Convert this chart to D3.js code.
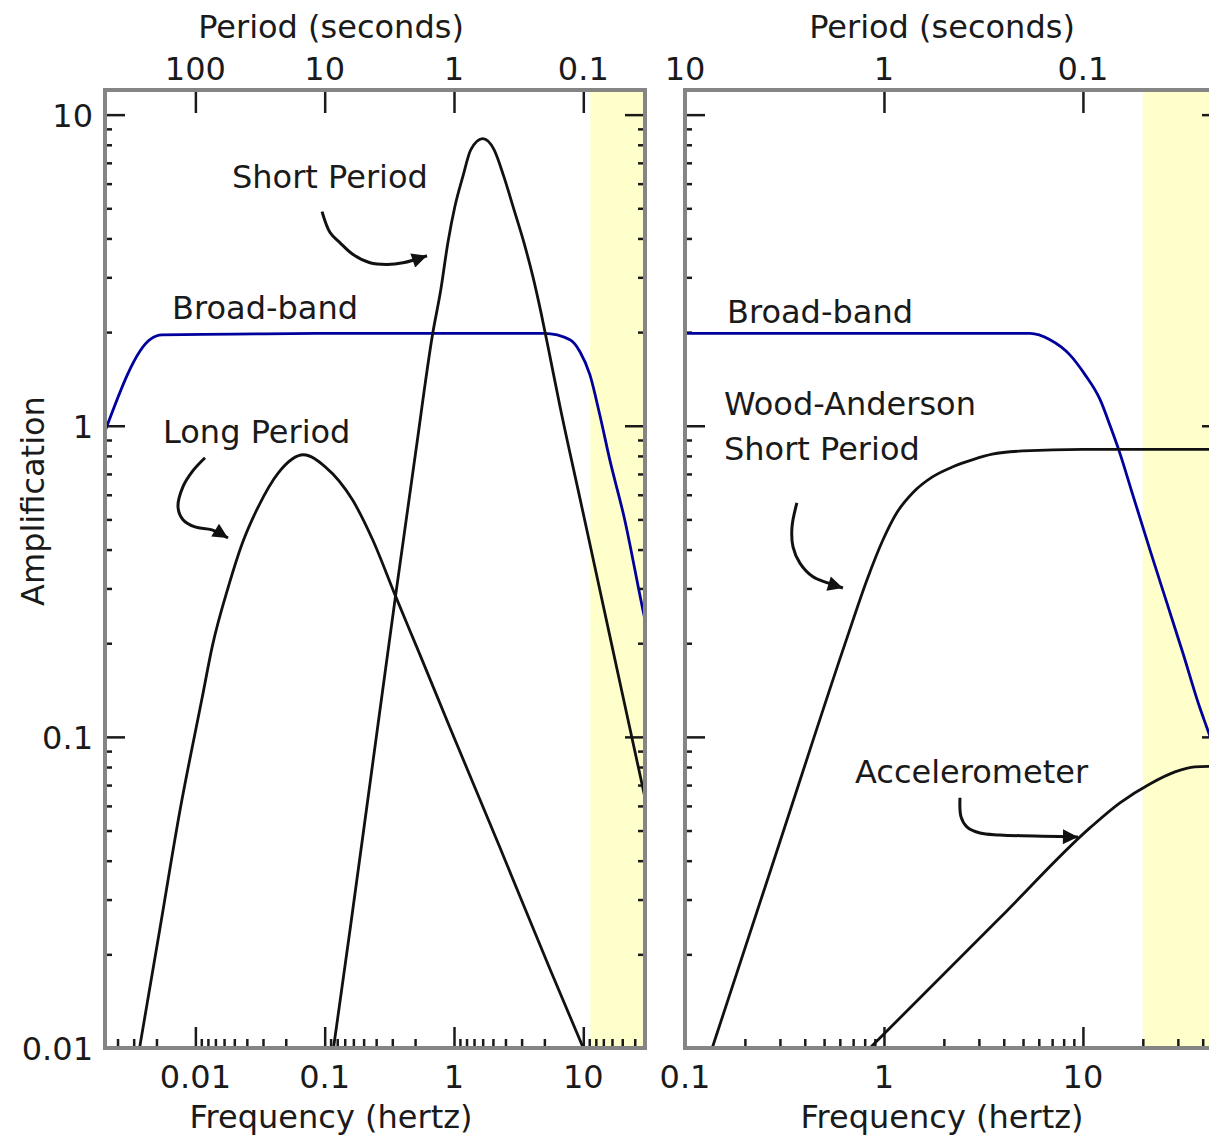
<!DOCTYPE html>
<html>
<head>
<meta charset="utf-8">
<script src="https://cdn.jsdelivr.net/npm/d3@7"></script>
<style>
  body { margin: 0; background: #fff; }
  svg { display: block; }
  text { font-family: "DejaVu Sans", sans-serif; font-size: 32px; fill: #1a1a1a; }
</style>
</head>
<body>
<svg></svg>
<script>
// ---- values: [frequency (Hz), amplification] ----
var ampLabels = [0.01, 0.1, 1, 10];
var leftFreqLabels = [0.01, 0.1, 1, 10];
var leftPeriodLabels = [100, 10, 1, 0.1];
var rightFreqLabels = [0.1, 1, 10];
var rightPeriodLabels = [10, 1, 0.1];

var leftBand = [11.3, 30];
var rightBand = [20, 50];

var broadBandLeft = [[0.002, 0.96], [0.0045, 1.9], [0.0055, 1.96], [0.02, 1.97], [0.1, 1.98],
  [1, 1.98], [5, 1.98], [7.89, 1.89], [9.42, 1.73], [11.24, 1.46], [13.42, 1.083],
  [16.02, 0.778], [20.9, 0.499], [28.9, 0.256], [30, 0.238]];

var longPeriod = [[0.0037, 0.01], [0.0053, 0.024], [0.0076, 0.058], [0.0113, 0.134],
  [0.0135, 0.195], [0.018, 0.304], [0.0231, 0.42], [0.0307, 0.55], [0.0438, 0.706],
  [0.0686, 0.807], [0.101, 0.738], [0.164, 0.578], [0.235, 0.43], [0.35, 0.286],
  [0.546, 0.1835], [0.931, 0.107], [2.27, 0.044], [5.53, 0.0179], [10, 0.01]];

var shortPeriod = [[0.117, 0.01], [0.159, 0.0249], [0.226, 0.0727], [0.354, 0.286],
  [0.506, 0.825], [0.686, 1.99], [0.791, 2.74], [0.896, 3.87], [1.015, 5.06], [1.17, 6.32],
  [1.35, 7.72], [1.67, 8.37], [2.04, 7.72], [2.43, 6.32], [2.91, 4.95], [3.48, 3.87],
  [4.08, 3.01], [4.71, 2.31], [5.34, 1.79], [6.61, 1.151], [9.44, 0.582], [13.47, 0.295],
  [19.23, 0.149], [30, 0.0637]];

var broadBandRight = [[0.1, 1.98], [1, 1.98], [5.42, 1.98], [6.83, 1.89], [8.6, 1.69],
  [10.24, 1.46], [12.2, 1.213], [13.7, 1.0], [15.3, 0.82], [17.8, 0.6], [21.7, 0.4],
  [26.4, 0.27], [31.8, 0.186], [38.7, 0.124], [42, 0.107], [50, 0.078]];

var woodAnderson = [[0.137, 0.01], [0.3, 0.046], [0.652, 0.208], [0.822, 0.32], [0.989, 0.43],
  [1.16, 0.525], [1.4, 0.61], [1.76, 0.686], [2.22, 0.738], [2.8, 0.778], [3.5, 0.81],
  [5, 0.83], [10, 0.84], [50, 0.84]];

var accelerometer = [[0.85, 0.01], [3.83, 0.0262], [10.84, 0.051], [15.35, 0.0614],
  [21.7, 0.0706], [29, 0.0772], [36.5, 0.0801], [50, 0.0805]];

// annotation text anchors and arrow paths, also in data units
var leftNotes = [
  { text: "Short Period", f: 0.0192, a: 5.82 },
  { text: "Broad-band", f: 0.0066, a: 2.21 },
  { text: "Long Period", f: 0.00562, a: 0.882 }
];
var rightNotes = [
  { text: "Broad-band", f: 0.1626, a: 2.14 },
  { text: "Wood-Anderson", f: 0.157, a: 1.085 },
  { text: "Short Period", f: 0.157, a: 0.778 },
  { text: "Accelerometer", f: 0.715, a: 0.0711 }
];
var shortPeriodArrow = [[0.0954, 4.88], [0.110, 4.18], [0.131, 3.88], [0.166, 3.55],
  [0.224, 3.34], [0.303, 3.30], [0.403, 3.34], [0.618, 3.52]];
var longPeriodArrow = [[0.01187, 0.789], [0.00942, 0.711], [0.00802, 0.637], [0.00734, 0.549],
  [0.00802, 0.499], [0.00993, 0.473], [0.01345, 0.463], [0.01787, 0.436]];
var woodAndersonArrow = [[0.365, 0.565], [0.345, 0.473], [0.349, 0.408], [0.378, 0.362],
  [0.440, 0.327], [0.517, 0.313], [0.622, 0.301]];
var accelerometerArrow = [[2.41, 0.0637], [2.44, 0.0553], [2.61, 0.0514], [3.04, 0.0491],
  [3.83, 0.0484], [9.44, 0.0477]];

// ---- layout ----
var width = 1209;
var height = 1140;
var plotTop = 90;
var plotBottom = 1048;

var svg = d3.select("svg")
    .attr("width", width)
    .attr("height", height);

svg.append("defs")
  .append("marker")
    .attr("id", "head")
    .attr("viewBox", "0 0 10 10")
    .attr("refX", 10)
    .attr("refY", 5)
    .attr("markerWidth", 18)
    .attr("markerHeight", 15)
    .attr("markerUnits", "userSpaceOnUse")
    .attr("orient", "auto")
  .append("path")
    .attr("d", "M0,0 L10,5 L0,10 Z")
    .attr("fill", "#111");

var y = d3.scaleLog().domain([0.01, 12]).range([plotBottom, plotTop]);

var panels = [
  {
    id: "left", range: [105, 645], domain: [0.002, 30], titleX: 331,
    freqLabels: leftFreqLabels, periodLabels: leftPeriodLabels, band: leftBand,
    periodMinor: true, ampText: true,
    curves: [
      { data: broadBandLeft, color: "#00009c" },
      { data: longPeriod, color: "#111" },
      { data: shortPeriod, color: "#111" }
    ],
    notes: leftNotes,
    arrows: [shortPeriodArrow, longPeriodArrow]
  },
  {
    id: "right", range: [685, 1222], domain: [0.1, 50], titleX: 942,
    freqLabels: rightFreqLabels, periodLabels: rightPeriodLabels, band: rightBand,
    periodMinor: false, ampText: false,
    curves: [
      { data: broadBandRight, color: "#00009c" },
      { data: woodAnderson, color: "#111" },
      { data: accelerometer, color: "#111" }
    ],
    notes: rightNotes,
    arrows: [woodAndersonArrow, accelerometerArrow]
  }
];

panels.forEach(drawPanel);

svg.append("text")
    .attr("transform", `translate(44, 501) rotate(-90)`)
    .style("text-anchor", "middle")
    .text("Amplification");

function drawPanel(p) {
  var x = d3.scaleLog().domain(p.domain).range(p.range);
  var x0 = p.range[0], x1 = p.range[1];
  var g = svg.append("g").classed(p.id, true);

  g.append("clipPath")
      .attr("id", "clip-" + p.id)
    .append("rect")
      .attr("x", x0)
      .attr("y", plotTop)
      .attr("width", x1 - x0)
      .attr("height", plotBottom - plotTop);

  // shaded band
  g.append("rect")
      .attr("x", x(p.band[0]))
      .attr("y", plotTop)
      .attr("width", x(p.band[1]) - x(p.band[0]))
      .attr("height", plotBottom - plotTop)
      .attr("fill", "#ffffcc");

  // ticks
  var isDecade = v => Math.abs(Math.log10(v) - Math.round(Math.log10(v))) < 1e-6;
  var minorAmp = y.ticks().filter(v => !isDecade(v));
  var minorFreq;
  if (p.periodMinor) {
    // the left panel's bottom minor ticks sit at round periods
    var periodScale = d3.scaleLog().domain([1 / p.domain[1], 1 / p.domain[0]]);
    minorFreq = periodScale.ticks().filter(v => !isDecade(v)).map(v => 1 / v);
  } else {
    minorFreq = x.ticks().filter(v => !isDecade(v));
  }
  var periodFreq = p.periodLabels.map(v => 1 / v);

  var tickGroups = [
    { axis: d3.axisRight(y).tickValues(ampLabels).tickSize(20), at: `translate(${x0},0)` },
    { axis: d3.axisRight(y).tickValues(minorAmp).tickSize(7), at: `translate(${x0},0)` },
    { axis: d3.axisLeft(y).tickValues(ampLabels).tickSize(20), at: `translate(${x1},0)` },
    { axis: d3.axisLeft(y).tickValues(minorAmp).tickSize(7), at: `translate(${x1},0)` },
    { axis: d3.axisTop(x).tickValues(p.freqLabels).tickSize(21), at: `translate(0,${plotBottom})` },
    { axis: d3.axisTop(x).tickValues(minorFreq).tickSize(9), at: `translate(0,${plotBottom})` },
    { axis: d3.axisBottom(x).tickValues(periodFreq).tickSize(23), at: `translate(0,${plotTop})` }
  ];

  var tickLayer = g.append("g")
      .attr("clip-path", `url(#clip-${p.id})`);

  tickGroups.forEach(t => {
    var a = tickLayer.append("g")
        .attr("transform", t.at)
        .call(t.axis.tickFormat(""));
    a.select(".domain").remove();
    a.selectAll("line")
        .attr("stroke", "#1a1a1a")
        .attr("stroke-width", 2.5);
  });

  // curves
  var line = d3.line()
      .x(d => x(d[0]))
      .y(d => y(d[1]))
      .curve(d3.curveMonotoneX);

  g.append("g")
      .attr("clip-path", `url(#clip-${p.id})`)
    .selectAll("path")
    .data(p.curves)
    .enter()
    .append("path")
      .attr("d", d => line(d.data))
      .attr("fill", "none")
      .attr("stroke", d => d.color)
      .attr("stroke-width", 2.8)
      .attr("stroke-linejoin", "round");

  // frame
  g.append("rect")
      .attr("x", x0)
      .attr("y", plotTop)
      .attr("width", x1 - x0)
      .attr("height", plotBottom - plotTop)
      .attr("fill", "none")
      .attr("stroke", "#858585")
      .attr("stroke-width", 4);

  // annotations
  g.selectAll(".note")
    .data(p.notes)
    .enter()
    .append("text")
      .classed("note", true)
      .attr("x", d => x(d.f))
      .attr("y", d => y(d.a))
      .text(d => d.text);

  var arrowLine = d3.line()
      .x(d => x(d[0]))
      .y(d => y(d[1]))
      .curve(d3.curveCatmullRom);

  g.selectAll(".arrow")
    .data(p.arrows)
    .enter()
    .append("path")
      .classed("arrow", true)
      .attr("d", arrowLine)
      .attr("fill", "none")
      .attr("stroke", "#111")
      .attr("stroke-width", 3)
      .attr("marker-end", "url(#head)");

  // tick labels
  g.selectAll(".freq-label")
    .data(p.freqLabels)
    .enter()
    .append("text")
      .attr("x", d => x(d))
      .attr("y", 1088)
      .style("text-anchor", "middle")
      .text(d => String(d));

  g.selectAll(".period-label")
    .data(p.periodLabels)
    .enter()
    .append("text")
      .attr("x", d => x(1 / d))
      .attr("y", 80)
      .style("text-anchor", "middle")
      .text(d => String(d));

  if (p.ampText) {
    g.selectAll(".amp-label")
      .data(ampLabels)
      .enter()
      .append("text")
        .attr("x", 93)
        .attr("y", d => y(d) + 12)
        .style("text-anchor", "end")
        .text(d => String(d));
  }

  // axis titles
  g.append("text")
      .attr("x", p.titleX)
      .attr("y", 38)
      .style("text-anchor", "middle")
      .text("Period (seconds)");

  g.append("text")
      .attr("x", p.titleX)
      .attr("y", 1128)
      .style("text-anchor", "middle")
      .text("Frequency (hertz)");
}
</script>
</body>
</html>
